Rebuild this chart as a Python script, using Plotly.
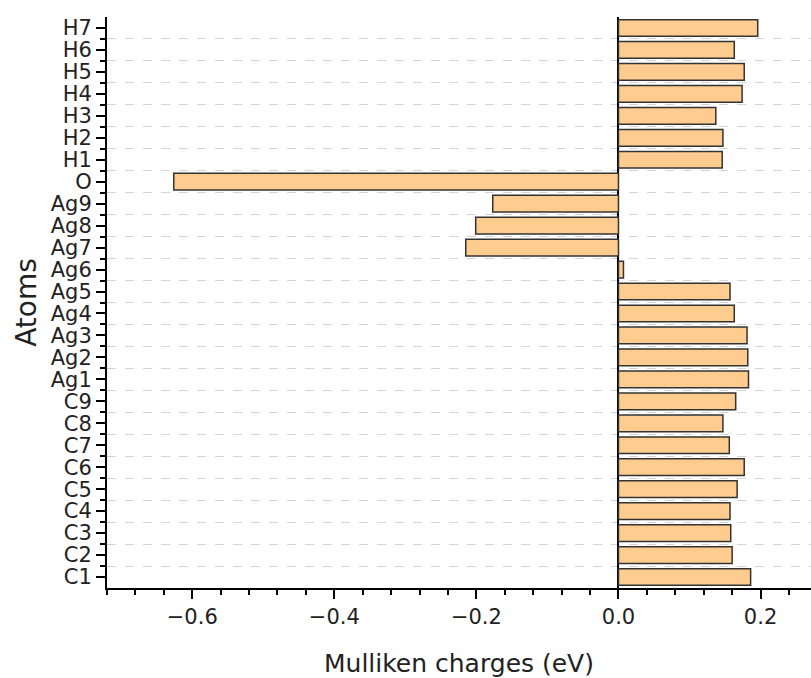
import plotly.graph_objects as go

atoms = ["C1", "C2", "C3", "C4", "C5", "C6", "C7", "C8", "C9",
         "Ag1", "Ag2", "Ag3", "Ag4", "Ag5", "Ag6", "Ag7", "Ag8", "Ag9",
         "O", "H1", "H2", "H3", "H4", "H5", "H6", "H7"]
charges = [0.186, 0.160, 0.158, 0.157, 0.167, 0.177, 0.156, 0.147, 0.165,
           0.183, 0.182, 0.181, 0.163, 0.157, 0.007, -0.215, -0.201, -0.177,
           -0.626, 0.146, 0.147, 0.137, 0.174, 0.177, 0.163, 0.196]

positions = list(range(len(atoms)))
FONT = "DejaVu Sans"

fig = go.Figure(go.Bar(
    x=charges,
    y=positions,
    orientation="h",
    width=0.76,
    marker=dict(color="#FFCC90", line=dict(color="#333333", width=1.5)),
))

fig.update_layout(
    width=811, height=678,
    margin=dict(l=107, r=0, t=17, b=90, autoexpand=False),
    plot_bgcolor="white",
    paper_bgcolor="white",
    showlegend=False,
    font=dict(family=FONT, color="#222222"),
)

fig.update_xaxes(
    range=[-0.72, 0.271],
    tick0=0, dtick=0.2, tickformat=".1f",
    ticks="outside", ticklen=9, tickwidth=2, tickcolor="black",
    tickfont=dict(size=21, family=FONT, color="#222222"),
    showline=True, linecolor="black", linewidth=2,
    showgrid=False,
    zeroline=True, zerolinecolor="black", zerolinewidth=2,
    minor=dict(dtick=0.04, tick0=0, ticks="outside", ticklen=5, tickwidth=1.5, tickcolor="black", showgrid=False),
    title=dict(text="Mulliken charges (eV)", font=dict(size=25, family=FONT, color="#222222"), standoff=26),
    automargin=False,
)

fig.update_yaxes(
    range=[-0.5, len(atoms) - 0.5],
    tickmode="array", tickvals=positions, ticktext=atoms,
    ticks="outside", ticklen=9, tickwidth=2, tickcolor="black",
    tickfont=dict(size=21, family=FONT, color="#222222"),
    showline=True, linecolor="black", linewidth=2,
    showgrid=False, zeroline=False,
    minor=dict(tickvals=[i + 0.5 for i in range(len(atoms) - 1)],
               ticks="outside", ticklen=5, tickwidth=1.5, tickcolor="black",
               showgrid=True, gridcolor="#d4d4d4", griddash="dash", gridwidth=1),
    title=dict(text="Atoms", font=dict(size=28, family=FONT, color="#222222"), standoff=6),
    automargin=False,
)

fig.write_html(
    "out.html",
    config={"displayModeBar": False},
    post_script="document.body.style.margin='0px';document.body.style.overflow='hidden';",
)
